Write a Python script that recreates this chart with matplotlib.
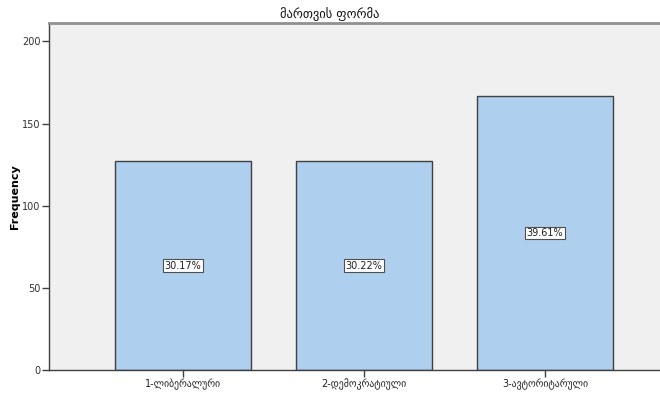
import matplotlib.pyplot as plt

categories = ["1-ლიბერალური", "2-დემოკრატიული", "3-ავტორიტარული"]
frequencies = [127.0, 127.2, 166.8]
percent_labels = ["30.17%", "30.22%", "39.61%"]
title = "მართვის ფორმა"

plt.rcParams['font.family'] = ['DejaVu Sans']

fig = plt.figure(figsize=(6.6, 3.94), dpi=100)
ax = fig.add_axes([49 / 660, 24 / 394, 611 / 660, 347 / 394])
ax.set_facecolor('#f0f0f0')

x = range(len(categories))
ax.bar(x, frequencies, width=0.751, color='#aecfed', edgecolor='#404040', linewidth=1.0, zorder=2)

for i, (f, lab) in enumerate(zip(frequencies, percent_labels)):
    ax.text(i, f / 2, lab, ha='center', va='center', fontsize=7, color='#202020',
            bbox=dict(boxstyle='square,pad=0.15', facecolor='white', edgecolor='#505050', linewidth=0.8),
            zorder=3)

ax.set_xlim(-0.740, 2.635)
ax.set_ylim(0, 211.2)
ax.set_yticks([0, 50, 100, 150, 200])
ax.set_xticks(list(x))
ax.set_xticklabels(categories, fontsize=7, color='#202020')
ax.tick_params(axis='y', labelsize=7, labelcolor='#303030', length=5, width=1, color='#404040', pad=1)
ax.tick_params(axis='x', length=5, width=1, color='#404040', pad=1)

ax.set_ylabel("Frequency", fontsize=8, fontweight='bold')
ax.yaxis.set_label_coords(-29 / 611, 0.5)

for side in ['left', 'bottom']:
    ax.spines[side].set_color('#404040')
    ax.spines[side].set_linewidth(1.0)
ax.spines['top'].set_color('#909090')
ax.spines['top'].set_linewidth(2.0)
ax.spines['right'].set_visible(False)

fig.text(0.5, 1 - 14 / 394, title, ha='center', va='center', fontsize=9, color='#101010')

fig.savefig('out.png', dpi=100)
